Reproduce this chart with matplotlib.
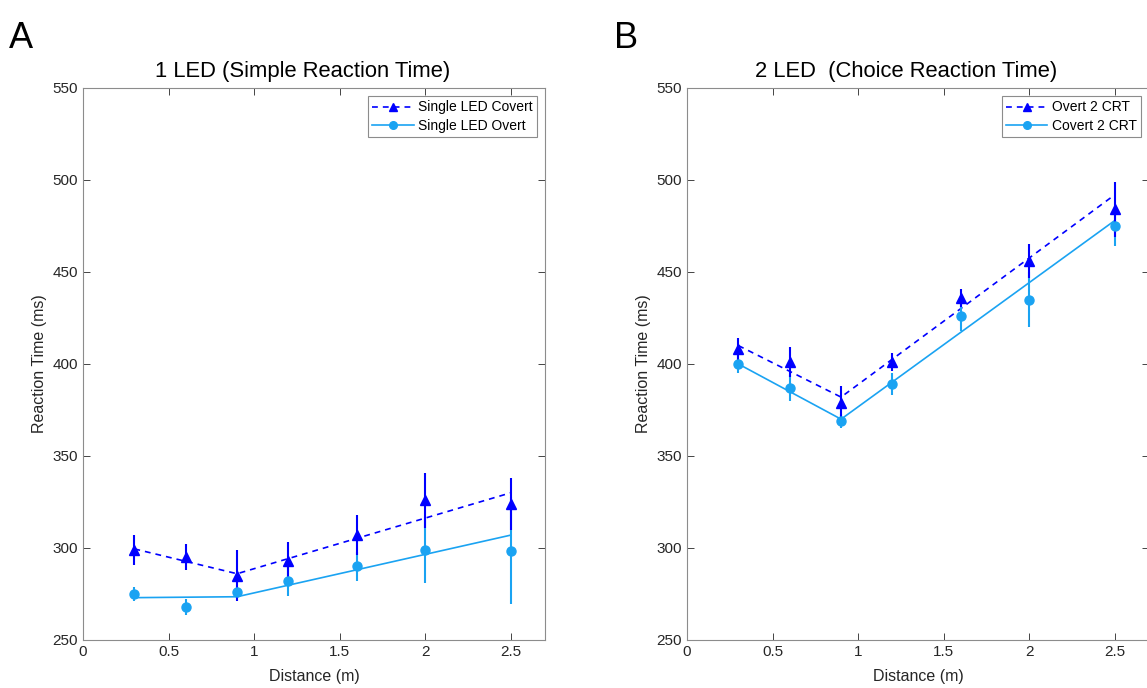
import matplotlib.pyplot as plt
from matplotlib.lines import Line2D

# расстояния (м)
distance = [0.3, 0.6, 0.9, 1.2, 1.6, 2.0, 2.5]

# панель A: 1 LED
led1_covert = [299, 295, 285, 293, 307, 326, 324]
led1_covert_err = [8, 7, 14, 10, 11, 15, 14]
led1_overt = [275, 268, 276, 282, 290, 299, 298.5]
led1_overt_err = [4, 4.5, 3, 8, 8, 18, 29]
# кусочно-линейная аппроксимация (узлы 0.3, 0.9, 2.5)
fit_x = [0.3, 0.9, 2.5]
led1_covert_fit = [299.5, 286, 330]
led1_overt_fit = [273, 273.5, 307]

# панель B: 2 LED
led2_overt = [408, 401, 379, 401, 436, 456, 484]
led2_overt_err = [6, 8, 9, 5, 5, 9, 15]
led2_covert = [400, 387, 369, 389, 426, 435, 475]
led2_covert_err = [5, 7, 4, 6, 8, 15, 11]
led2_overt_fit = [410, 382, 492]
led2_covert_fit = [400, 370, 478]

dark = '#0000FF'
light = '#1AA3F2'
gray = '#262626'

plt.rcParams['font.family'] = ['Liberation Sans', 'DejaVu Sans']

fig = plt.figure(figsize=(11.47, 6.88), dpi=100)
ax1 = fig.add_axes([0.0724, 0.0698, 0.4028, 0.8023])
ax2 = fig.add_axes([0.599, 0.0698, 0.4028, 0.8023])


def draw_panel(ax, title, y1, e1, f1, lab1, y2, e2, f2, lab2):
    # линии аппроксимации
    ax.plot(fit_x, f1, color=dark, lw=1.2, ls=(0, (3.5, 3)))
    ax.plot(fit_x, f2, color=light, lw=1.2)
    # точки с ошибками
    ax.errorbar(distance, y2, yerr=e2, fmt='o', color=light, ms=6.5,
                elinewidth=1.5, capsize=0)
    ax.errorbar(distance, y1, yerr=e1, fmt='^', color=dark, ms=7,
                elinewidth=1.5, capsize=0)
    ax.set_xlim(0, 2.7)
    ax.set_ylim(250, 550)
    ax.set_xticks([0, 0.5, 1, 1.5, 2, 2.5])
    ax.set_xticklabels(['0', '0.5', '1', '1.5', '2', '2.5'])
    ax.set_yticks(range(250, 551, 50))
    ax.tick_params(direction='in', top=True, right=True, labelsize=11,
                   colors=gray, length=5, width=0.6)
    for s in ax.spines.values():
        s.set_color('#8c8c8c')
        s.set_linewidth(0.8)
    ax.set_xlabel('Distance (m)', fontsize=11.5, color=gray, labelpad=7)
    ax.set_ylabel('Reaction Time (ms)', fontsize=11.5, color=gray, labelpad=4)
    ax.set_title(title, fontsize=15.8, pad=8, x=0.475)
    h1 = Line2D([], [], color=dark, ls=(0, (3.5, 3)), marker='^', ms=6, lw=1.2)
    h2 = Line2D([], [], color=light, marker='o', ms=5.5, lw=1.2)
    leg = ax.legend([h1, h2], [lab1, lab2], loc='upper right', fontsize=10,
                    fancybox=False, edgecolor='#8c8c8c', framealpha=1,
                    handlelength=3.0, borderpad=0.3, labelspacing=0.3,
                    handletextpad=0.3, borderaxespad=0.6)
    leg.get_frame().set_linewidth(0.8)


draw_panel(ax1, '1 LED (Simple Reaction Time)',
           led1_covert, led1_covert_err, led1_covert_fit, 'Single LED Covert',
           led1_overt, led1_overt_err, led1_overt_fit, 'Single LED Overt')
draw_panel(ax2, '2 LED  (Choice Reaction Time)',
           led2_overt, led2_overt_err, led2_overt_fit, 'Overt 2 CRT',
           led2_covert, led2_covert_err, led2_covert_fit, 'Covert 2 CRT')

fig.text(0.008, 0.97, 'A', fontsize=26, va='top')
fig.text(0.535, 0.97, 'B', fontsize=26, va='top')

plt.savefig('out.png', dpi=100)
